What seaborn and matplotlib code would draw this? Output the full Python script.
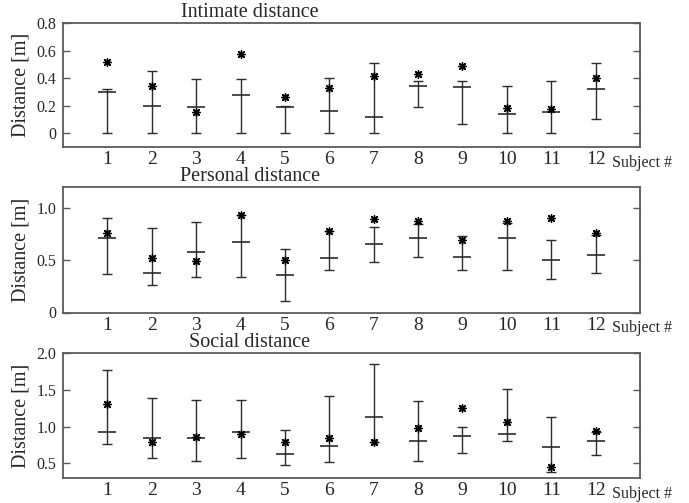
import numpy as np
import pandas as pd
import matplotlib
matplotlib.use("Agg")
import matplotlib.pyplot as plt
import seaborn as sns
from matplotlib.ticker import FixedLocator

subjects = list(range(1, 13))

intimate_low = [0, 0, 0, 0, 0, 0, 0, 0.19, 0.07, 0, 0, 0.10]
intimate_high = [0.32, 0.455, 0.39, 0.39, 0.195, 0.40, 0.51, 0.38, 0.38, 0.34, 0.38, 0.51]
intimate_mean = [0.30, 0.20, 0.19, 0.28, 0.19, 0.163, 0.12, 0.343, 0.336, 0.141, 0.151, 0.323]
intimate_star = [0.515, 0.345, 0.153, 0.573, 0.265, 0.325, 0.415, 0.432, 0.49, 0.185, 0.175, 0.40]

personal_low = [0.365, 0.263, 0.337, 0.337, 0.109, 0.41, 0.481, 0.529, 0.41, 0.41, 0.321, 0.378]
personal_high = [0.907, 0.808, 0.869, 0.93, 0.609, 0.78, 0.814, 0.846, 0.734, 0.856, 0.689, 0.744]
personal_mean = [0.712, 0.381, 0.58, 0.673, 0.359, 0.519, 0.651, 0.712, 0.529, 0.712, 0.5, 0.551]
personal_star = [0.76, 0.522, 0.494, 0.929, 0.5, 0.779, 0.891, 0.878, 0.696, 0.878, 0.901, 0.756]

social_low = [0.758, 0.573, 0.533, 0.573, 0.478, 0.518, 0.785, 0.532, 0.645, 0.804, 0.382, 0.613]
social_high = [1.769, 1.384, 1.366, 1.366, 0.958, 1.42, 1.855, 1.352, 0.99, 1.511, 1.126, 0.925]
social_mean = [0.931, 0.845, 0.845, 0.922, 0.623, 0.736, 1.135, 0.804, 0.876, 0.894, 0.718, 0.804]
social_star = [1.311, 0.786, 0.863, 0.894, 0.786, 0.845, 0.785, 0.981, 1.252, 1.058, 0.45, 0.935]

titles = ["Intimate distance", "Personal distance", "Social distance"]
ylims = [(-0.1, 0.8), (0.0, 1.2), (0.3, 2.0)]
yticks = [[0, 0.2, 0.4, 0.6, 0.8], [0, 0.5, 1.0], [0.5, 1.0, 1.5, 2.0]]
yticklabels = [["0", "0.2", "0.4", "0.6", "0.8"], ["0", "0.5", "1.0"], ["0.5", "1.0", "1.5", "2.0"]]
x_minor_ticks = [2, 4, 6, 8, 10, 12]
x_label_text = "Subject #"
y_label_text = "Distance [m]"

panels = [
    (intimate_low, intimate_high, intimate_mean, intimate_star),
    (personal_low, personal_high, personal_mean, personal_star),
    (social_low, social_high, social_mean, social_star),
]

sns.set_theme(style="ticks")
plt.rcParams["font.family"] = ["Liberation Serif", "DejaVu Serif"]

W, H = 689, 503
fig = plt.figure(figsize=(W / 100, H / 100), dpi=100)
fig.patch.set_facecolor("white")

# axes boxes in pixel coordinates (left, top, right, bottom)
boxes = [(63, 23, 640, 147), (63, 187, 640, 312.5), (63, 353, 640, 478)]

line_col = "#2b2b2b"
spine_col = "#5a5a5a"

for i, (box, data) in enumerate(zip(boxes, panels)):
    l, t, r, b = box
    ax = fig.add_axes([l / W, 1 - b / H, (r - l) / W, (b - t) / H])
    low, high, mean, star = data
    df = pd.DataFrame({"subject": subjects, "low": low, "high": high,
                       "mean": mean, "star": star})
    yerr = np.vstack([df["mean"] - df["low"], df["high"] - df["mean"]])
    ax.errorbar(df["subject"], df["mean"], yerr=yerr, fmt="none",
                ecolor=line_col, elinewidth=1.0, capsize=3.8, capthick=1.0, zorder=2)
    sns.scatterplot(data=df, x="subject", y="mean", marker="_", s=180,
                    color=line_col, linewidth=1.2, ax=ax, zorder=3, legend=False)
    sns.scatterplot(data=df, x="subject", y="star", marker=(8, 2, 0), s=30,
                    color="black", edgecolor="black", linewidth=1.0, ax=ax,
                    zorder=4, legend=False)

    ax.set_xlim(0, 13)
    ax.set_ylim(*ylims[i])
    ax.set_xticks(subjects)
    ax.set_xticklabels([str(s) for s in subjects], fontsize=14)
    ax.xaxis.set_minor_locator(FixedLocator(x_minor_ticks))
    ax.set_yticks(yticks[i])
    ax.set_yticklabels(yticklabels[i], fontsize=11.5)
    ax.tick_params(axis="x", which="major", length=0, pad=3, bottom=True)
    ax.tick_params(axis="x", which="minor", direction="in", length=5,
                   top=True, bottom=True, color=spine_col, width=1)
    ax.tick_params(axis="y", which="major", direction="in", length=5,
                   left=True, right=True, color=spine_col, width=1, pad=5)
    ax.set_xlabel("")
    ax.set_ylabel(y_label_text, fontsize=14.5, labelpad=4)
    for sp in ax.spines.values():
        sp.set_visible(True)
        sp.set_color(spine_col)
        sp.set_linewidth(1.3)
    ax.grid(False)
    ax.set_facecolor("white")

    ax.text((250 - l) / (r - l), 1.01, titles[i], transform=ax.transAxes,
            ha="center", va="bottom", fontsize=14.5)
    ax.annotate(x_label_text, xy=(12.38, 0), xycoords=("data", "axes fraction"),
                xytext=(0, -5.5), textcoords="offset points", ha="left", va="top",
                fontsize=11.5, annotation_clip=False)

fig.savefig("out.png", dpi=100, facecolor="white")
